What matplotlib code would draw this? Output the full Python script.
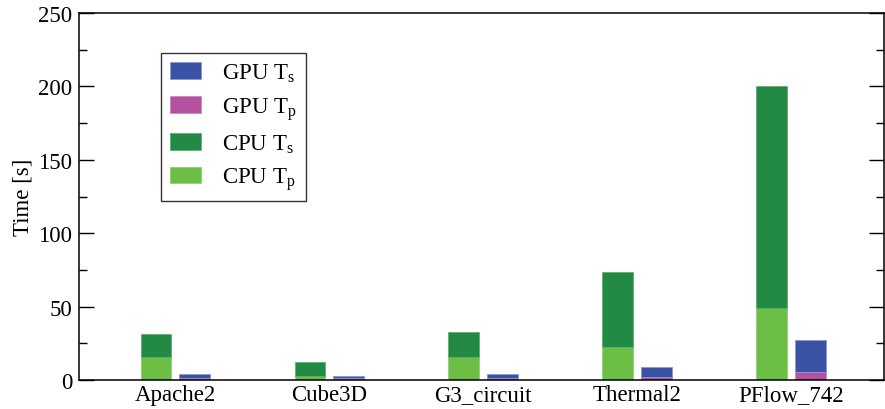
import matplotlib
matplotlib.use("Agg")
import matplotlib.pyplot as plt
import numpy as np
from matplotlib.patches import Patch
from matplotlib.ticker import MultipleLocator

categories = ["Apache2", "Cube3D", "G3_circuit", "Thermal2", "PFlow_742"]
cpu_tp = [15.9, 2.5, 15.9, 22.7, 49.0]
cpu_ts = [15.4, 9.5, 16.6, 51.1, 151.5]   # stacked on top of cpu_tp
gpu_tp = [1.6, 1.1, 1.5, 2.0, 5.2]
gpu_ts = [2.3, 1.4, 2.6, 6.9, 21.8]       # stacked on top of gpu_tp
y_ticks = [0, 50, 100, 150, 200, 250]

plt.rcParams['font.family'] = ['Liberation Serif', 'DejaVu Serif']
plt.rcParams['mathtext.fontset'] = 'custom'
plt.rcParams['mathtext.rm'] = 'Liberation Serif'
plt.rcParams['mathtext.it'] = 'Liberation Serif'

FS = 16.5
c_gpu_ts = "#3a52a3"
c_gpu_tp = "#b4529f"
c_cpu_ts = "#228a42"
c_cpu_tp = "#6dbe45"

fig = plt.figure(figsize=(8.85, 4.1), dpi=100)
ax = fig.add_axes([79/885, 29/410, 805/885, 367/410])

x = np.arange(len(categories))
w = 0.2
off = 0.126
ax.bar(x - off, cpu_tp, w, color=c_cpu_tp, edgecolor="#8fd07a", linewidth=0.6)
ax.bar(x - off, cpu_ts, w, bottom=cpu_tp, color=c_cpu_ts, edgecolor="#5fae74", linewidth=0.6)
ax.bar(x + off, gpu_tp, w, color=c_gpu_tp, edgecolor="#c98bbd", linewidth=0.6)
ax.bar(x + off, gpu_ts, w, bottom=gpu_tp, color=c_gpu_ts, edgecolor="#8a9ad0", linewidth=0.6)

ax.set_xlim(-0.627, 4.604)
ax.set_ylim(0, 250)
ax.set_xticks(x)
ax.set_xticklabels(categories, fontsize=FS)
ax.tick_params(axis='x', length=0, pad=3)
ax.set_yticks(y_ticks)
ax.yaxis.set_minor_locator(MultipleLocator(25))
ax.tick_params(axis='y', which='major', direction='in', length=11, width=1, left=True, right=True, labelsize=FS, pad=5)
ax.tick_params(axis='y', which='minor', direction='in', length=5.5, width=1, left=True, right=True)
ax.set_ylabel("Time [s]", fontsize=FS, labelpad=3)
for s in ax.spines.values():
    s.set_linewidth(1.1)

handles = [Patch(facecolor=c_gpu_ts, edgecolor="#8a9ad0", linewidth=0.6),
           Patch(facecolor=c_gpu_tp, edgecolor="#c98bbd", linewidth=0.6),
           Patch(facecolor=c_cpu_ts, edgecolor="#5fae74", linewidth=0.6),
           Patch(facecolor=c_cpu_tp, edgecolor="#8fd07a", linewidth=0.6)]
labels = [r"GPU T$_\mathrm{s}$", r"GPU T$_\mathrm{p}$", r"CPU T$_\mathrm{s}$", r"CPU T$_\mathrm{p}$"]
leg = ax.legend(handles, labels, loc='upper left', bbox_to_anchor=((161-79)/805, (381-54)/367),
                fontsize=FS, frameon=True, fancybox=False, edgecolor='black',
                handlelength=1.35, handleheight=0.74, handletextpad=0.95, labelspacing=0.47,
                borderpad=0.38, borderaxespad=0)
leg.get_frame().set_linewidth(1.0)

fig.savefig("out.png", dpi=100)
